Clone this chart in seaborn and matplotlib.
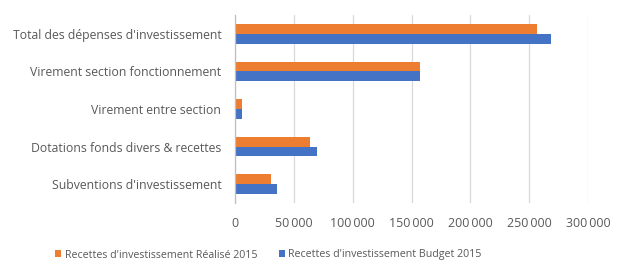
import pandas as pd
import matplotlib.pyplot as plt
import seaborn as sns
from matplotlib.ticker import FuncFormatter

categories = [
    "Total des dépenses d'investissement",
    "Virement section fonctionnement",
    "Virement entre section",
    "Dotations fonds divers & recettes",
    "Subventions d'investissement",
]
realise_2015 = [257000, 156700, 5700, 63600, 30100]
budget_2015 = [268700, 156700, 5700, 69900, 35800]
series_names = [
    "Recettes d'investissement Réalisé 2015",
    "Recettes d'investissement Budget 2015",
]
x_ticks = [0, 50000, 100000, 150000, 200000, 250000, 300000]

data = pd.DataFrame({
    "categorie": categories * 2,
    "valeur": realise_2015 + budget_2015,
    "serie": [series_names[0]] * len(categories) + [series_names[1]] * len(categories),
})

sns.set_style("white")
plt.rcParams["font.family"] = ["Open Sans", "DejaVu Sans"]
text_color = "#595959"

fig = plt.figure(figsize=(6.19, 2.68), dpi=100)
ax = fig.add_axes([0.38, 0.2425, 0.57, 0.7015])

sns.barplot(
    data=data,
    x="valeur",
    y="categorie",
    hue="serie",
    hue_order=series_names,
    order=categories,
    palette=["#ED7D31", "#4472C4"],
    orient="h",
    width=0.52,
    saturation=1,
    linewidth=0,
    ax=ax,
)

ax.set_xlim(0, 300000)
ax.set_ylim(4.5, -0.5)
ax.set_xticks(x_ticks)
ax.xaxis.set_major_formatter(FuncFormatter(lambda v, p: "{:,.0f}".format(v).replace(",", "\u2009") if v else "0"))
ax.grid(axis="x", color="#D9D9D9", linewidth=0.9)
ax.set_axisbelow(True)
ax.set_xlabel("")
ax.set_ylabel("")
ax.tick_params(axis="both", length=0, colors=text_color)
ax.tick_params(axis="x", pad=10, labelsize=8.9)
ax.tick_params(axis="y", pad=10, labelsize=8.8)
for side in ["top", "right", "bottom"]:
    ax.spines[side].set_visible(False)
ax.spines["left"].set_color("#BFBFBF")
ax.spines["left"].set_linewidth(0.9)

handles, labels = ax.get_legend_handles_labels()
ax.get_legend().remove()
fig.legend(
    handles,
    labels,
    loc="center left",
    bbox_to_anchor=(55 / 619, 1 - 255 / 268),
    ncol=2,
    frameon=False,
    fontsize=7.7,
    labelcolor=text_color,
    handlelength=0.6,
    handleheight=0.6,
    handletextpad=0.3,
    columnspacing=2.0,
    borderpad=0,
    borderaxespad=0,
)

fig.savefig("out.png", dpi=100)
